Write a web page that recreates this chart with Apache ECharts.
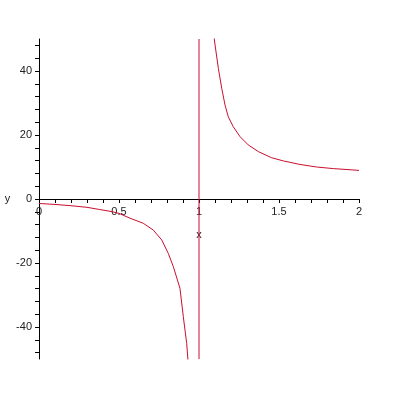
<!DOCTYPE html>
<html>
<head>
<meta charset="utf-8">
<script src="https://cdn.jsdelivr.net/npm/echarts@6/dist/echarts.min.js"></script>
<style>html,body{margin:0;padding:0;background:#fff}#c{width:400px;height:400px}</style>
</head>
<body>
<div id="c"></div>
<script>
// Left branch (x < 1)
const leftX = [0, 0.1, 0.2, 0.3, 0.38, 0.45, 0.5, 0.569, 0.652, 0.714, 0.767, 0.808, 0.84, 0.881, 0.902, 0.923, 0.931, 0.945];
const leftY = [-1.4, -1.7, -2.1, -2.6, -3.3, -3.9, -4.5, -6.0, -7.6, -9.7, -12.8, -17.0, -21.2, -27.9, -36.8, -45.1, -50.3, -62];
// Right branch (x > 1)
const rightX = [1.09, 1.096, 1.121, 1.142, 1.1625, 1.183, 1.214, 1.256, 1.308, 1.371, 1.454, 1.527, 1.631, 1.735, 1.84, 2];
const rightY = [56, 49.7, 40.8, 34.6, 29.4, 25.7, 22.6, 19.5, 16.9, 14.8, 12.9, 11.9, 10.8, 10, 9.5, 8.95];
// Vertical asymptote segment drawn by the plot
const asymX = [1, 1];
const asymY = [-50, 50];

const xTicks = [0,0.1,0.2,0.3,0.4,0.5,0.6,0.7,0.8,0.9,1,1.1,1.2,1.3,1.4,1.5,1.6,1.7,1.8,1.9,2];
const xLabels = [0, 0.5, 1, 1.5, 2];
const yTicks = [-48,-44,-40,-36,-32,-28,-24,-20,-16,-12,-8,-4,0,4,8,12,16,20,24,28,32,36,40,44,48];
const yLabels = [-40, -20, 0, 20, 40];

const zip = (a, b) => a.map((v, i) => [v, b[i]]);
const red = '#c8102e';
const font = 'Liberation Sans';

const chart = echarts.init(document.getElementById('c'));
chart.setOption({
  animation: false,
  backgroundColor: '#fff',
  grid: {left: 39, top: 39, width: 320, height: 320, containLabel: false},
  xAxis: {
    type: 'value', min: 0, max: 2, position: 'bottom', offset: -160,
    name: 'x', nameLocation: 'middle', nameGap: 30,
    nameTextStyle: {color: '#222', fontSize: 11, fontFamily: font},
    axisLine: {show: true, onZero: false, lineStyle: {color: '#000', width: 1}},
    axisTick: {show: true, inside: false, length: 4, customValues: xTicks, lineStyle: {color: '#000'}},
    axisLabel: {show: true, customValues: xLabels, margin: 7, color: '#222', fontSize: 11, fontFamily: font,
      formatter: v => String(v)},
    splitLine: {show: false}
  },
  yAxis: {
    type: 'value', min: -50, max: 50, position: 'left',
    name: 'y', nameLocation: 'middle', nameGap: 26, nameRotate: 0,
    nameTextStyle: {color: '#222', fontSize: 11, fontFamily: font},
    axisLine: {show: true, onZero: false, lineStyle: {color: '#000', width: 1}},
    axisTick: {show: true, inside: false, length: 4, customValues: yTicks, lineStyle: {color: '#000'}},
    axisLabel: {show: true, customValues: yLabels, margin: 7, color: '#222', fontSize: 11, fontFamily: font,
      formatter: v => String(v)},
    splitLine: {show: false}
  },
  series: [
    {type: 'line', data: zip(leftX, leftY), showSymbol: false, clip: true,
     lineStyle: {color: red, width: 1}, itemStyle: {color: red}},
    {type: 'line', data: zip(asymX, asymY), showSymbol: false, clip: true,
     lineStyle: {color: red, width: 1}, itemStyle: {color: red}},
    {type: 'line', data: zip(rightX, rightY), showSymbol: false, clip: true,
     lineStyle: {color: red, width: 1}, itemStyle: {color: red}}
  ]
});
</script>
</body>
</html>
